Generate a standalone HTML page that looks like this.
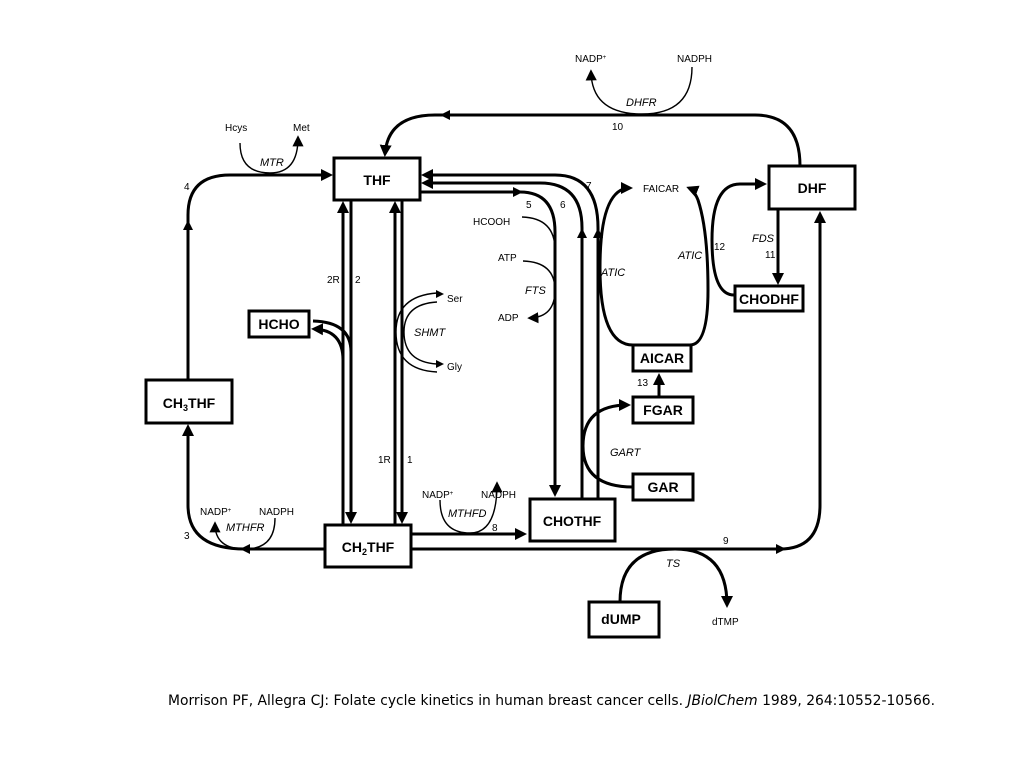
<!DOCTYPE html>
<html><head><meta charset="utf-8"><style>
html,body{margin:0;padding:0;background:#fff;}
svg{display:block;font-family:"Liberation Sans",Arial,sans-serif;}
.b{fill:#fff;stroke:#000;stroke-width:3;}
.l{fill:none;stroke:#000;stroke-width:3;}
.t{fill:none;stroke:#000;stroke-width:1.4;}
.bx{font-weight:bold;font-size:14px;text-anchor:middle;}
.s{font-size:10px;}
.i{font-size:11px;font-style:italic;}
</style></head><body>
<svg width="1024" height="768" viewBox="0 0 1024 768">
<defs>
<marker id="a" markerWidth="4" markerHeight="4" refX="3" refY="2" orient="auto" markerUnits="strokeWidth"><path d="M0,0 L4,2 L0,4z"/></marker>
<marker id="s" markerWidth="8" markerHeight="8" refX="6" refY="4" orient="auto" markerUnits="strokeWidth"><path d="M0,0 L8,4 L0,8z"/></marker>
</defs>

<!-- 10: DHF -> THF -->
<path class="l" d="M800,166 Q800,115 755,115 L435,115 Q388,115 385,154" marker-end="url(#a)"/>
<path d="M440,115 l10,-5 l0,10z"/>
<path class="t" d="M692,67 Q692,114 642,114 Q592,114 591,72" marker-end="url(#s)"/>

<!-- 4 -->
<path class="l" d="M188,380 L188,215 Q188,175 230,175 L330,175" marker-end="url(#a)"/>
<path d="M188,220 l-5,10 l10,0z"/>
<path class="t" d="M240,143 Q240,173 270,173 Q298,173 298,138" marker-end="url(#s)"/>

<!-- 3 -->
<path class="l" d="M325,549 L245,549 Q188,549 188,505 L188,427" marker-end="url(#a)"/>
<path d="M240,549 l10,-5 l0,10z"/>
<path class="t" d="M275,518 Q275,549 245,549 Q215,549 215,524" marker-end="url(#s)"/>

<!-- vertical pairs -->
<path class="l" d="M343,525 L343,204" marker-end="url(#a)"/>
<path class="l" d="M351,200 L351,521" marker-end="url(#a)"/>
<path class="l" d="M395,525 L395,204" marker-end="url(#a)"/>
<path class="l" d="M402,200 L402,521" marker-end="url(#a)"/>

<!-- HCHO -->
<path class="l" d="M351,352 Q351,322 313,321"/>
<path class="l" d="M343,360 Q343,330 314,329" marker-end="url(#a)"/>

<!-- SHMT -->
<path class="t" d="M437,293 Q396,296 396,332 Q396,370 437,372"/>
<path d="M444,294 l-8,-4 l0,8z"/>
<path class="t" d="M437,302 Q404,304 404,332 Q404,362 437,364"/>
<path d="M444,364 l-8,-4 l0,8z"/>

<!-- 5 -->
<path class="l" d="M420,192 L520,192 Q555,192 555,232 L555,494" marker-end="url(#a)"/>
<path d="M523,192 l-10,-5 l0,10z"/>
<!-- 6 -->
<path class="l" d="M582,499 L582,228 Q582,183 540,183 L424,183" marker-end="url(#a)"/>
<path d="M582,228 l-5,10 l10,0z"/>
<!-- 7 -->
<path class="l" d="M598,499 L598,228 Q598,175 555,175 L424,175" marker-end="url(#a)"/>
<path d="M598,228 l-5,10 l10,0z"/>

<!-- FTS -->
<path class="t" d="M522,217 Q555,218 555,250"/>
<path class="t" d="M523,261 Q555,262 555,290 Q555,317 530,318" marker-end="url(#s)"/>

<!-- ATIC left -->
<path class="l" d="M633,345 Q600,345 600,268 Q600,188 630,188" marker-end="url(#a)"/>
<!-- ATIC right -->
<path class="l" d="M690,345 Q708,345 708,290 Q708,230 698,200 Q694,190 689,188" marker-end="url(#a)"/>
<path class="l" d="M734,295 Q712,295 712,240 Q712,184 740,184 L764,184" marker-end="url(#a)"/>

<!-- FDS -->
<path class="l" d="M778,209 L778,282" marker-end="url(#a)"/>

<!-- 9 -->
<path class="l" d="M411,549 L780,549 Q820,549 820,505 L820,214" marker-end="url(#a)"/>
<path d="M786,549 l-10,-5 l0,10z"/>
<path class="l" d="M620,602 Q620,549 675,549 Q727,549 727,605" marker-end="url(#a)"/>

<!-- 8 -->
<path class="l" d="M411,534 L524,534" marker-end="url(#a)"/>
<path class="t" d="M440,500 Q440,533 470,533 Q497,533 497,484" marker-end="url(#s)"/>

<!-- 13 -->
<path class="l" d="M659,397 L659,376" marker-end="url(#a)"/>
<!-- GART -->
<path class="l" d="M633,487 Q583,487 583,446 Q583,405 628,405" marker-end="url(#a)"/>

<!-- boxes -->
<rect class="b" x="334" y="158" width="86" height="42"/><text class="bx" x="377" y="185">THF</text>
<rect class="b" x="769" y="166" width="86" height="43"/><text class="bx" x="812" y="193">DHF</text>
<rect class="b" x="735" y="286" width="68" height="25"/><text class="bx" x="769" y="304">CHODHF</text>
<rect class="b" x="249" y="311" width="60" height="26"/><text class="bx" x="279" y="329">HCHO</text>
<rect class="b" x="146" y="380" width="86" height="43"/><text class="bx" x="189" y="408">CH<tspan font-size="9" dy="3">3</tspan><tspan dy="-3">THF</tspan></text>
<rect class="b" x="325" y="525" width="86" height="42"/><text class="bx" x="368" y="552">CH<tspan font-size="9" dy="3">2</tspan><tspan dy="-3">THF</tspan></text>
<rect class="b" x="530" y="499" width="85" height="42"/><text class="bx" x="572" y="526">CHOTHF</text>
<rect class="b" x="633" y="345" width="58" height="26"/><text class="bx" x="662" y="363">AICAR</text>
<rect class="b" x="633" y="397" width="60" height="26"/><text class="bx" x="663" y="415">FGAR</text>
<rect class="b" x="633" y="474" width="60" height="26"/><text class="bx" x="663" y="492">GAR</text>
<rect class="b" x="589" y="602" width="70" height="35"/><text class="bx" x="621" y="624">dUMP</text>

<!-- labels -->
<g class="s">
<text x="575" y="62">NADP<tspan font-size="6" dy="-3">+</tspan></text>
<text x="677" y="62">NADPH</text>
<text x="612" y="130">10</text>
<text x="225" y="131">Hcys</text><text x="293" y="131">Met</text>
<text x="184" y="190">4</text>
<text x="184" y="539">3</text>
<text x="200" y="515">NADP<tspan font-size="6" dy="-3">+</tspan></text>
<text x="259" y="515">NADPH</text>
<text x="327" y="283">2R</text><text x="355" y="283">2</text>
<text x="378" y="463">1R</text><text x="407" y="463">1</text>
<text x="447" y="302">Ser</text><text x="447" y="370">Gly</text>
<text x="473" y="225">HCOOH</text><text x="498" y="261">ATP</text><text x="498" y="321">ADP</text>
<text x="526" y="208">5</text><text x="560" y="208">6</text><text x="586" y="189">7</text>
<text x="643" y="192">FAICAR</text>
<text x="714" y="250">12</text><text x="765" y="258">11</text>
<text x="637" y="386">13</text>
<text x="422" y="498">NADP<tspan font-size="6" dy="-3">+</tspan></text>
<text x="481" y="498">NADPH</text>
<text x="492" y="531">8</text>
<text x="723" y="544">9</text>
<text x="712" y="625">dTMP</text>
</g>
<g class="i">
<text x="626" y="106">DHFR</text>
<text x="260" y="166">MTR</text>
<text x="226" y="531">MTHFR</text>
<text x="414" y="336">SHMT</text>
<text x="525" y="294">FTS</text>
<text x="601" y="276">ATIC</text>
<text x="678" y="259">ATIC</text>
<text x="752" y="242">FDS</text>
<text x="448" y="517">MTHFD</text>
<text x="610" y="456">GART</text>
<text x="666" y="567">TS</text>
</g>
<text x="168" y="705" font-size="14.5" font-family="'DejaVu Sans',sans-serif" textLength="767" lengthAdjust="spacingAndGlyphs">Morrison PF, Allegra CJ: Folate cycle kinetics in human breast cancer cells. <tspan font-style="italic">JBiolChem</tspan> 1989, 264:10552-10566.</text>
</svg>
</body></html>
